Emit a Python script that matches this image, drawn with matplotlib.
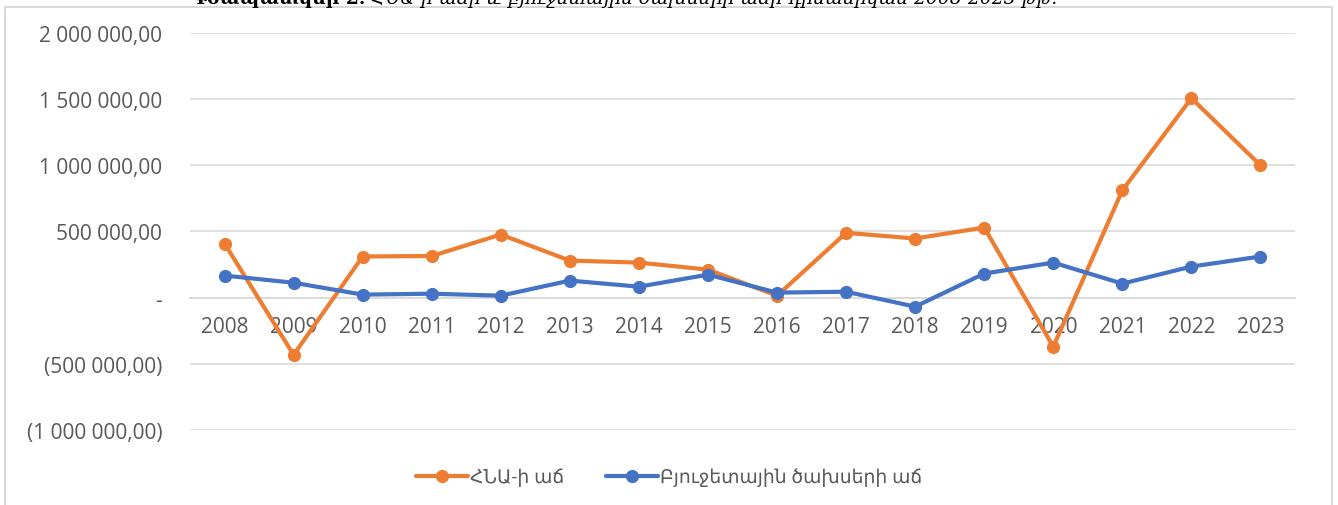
import matplotlib
matplotlib.use("Agg")
import matplotlib.pyplot as plt
from matplotlib.patches import Rectangle

years = ["2008", "2009", "2010", "2011", "2012", "2013", "2014", "2015",
         "2016", "2017", "2018", "2019", "2020", "2021", "2022", "2023"]
gdp_growth = [409000, -432000, 311000, 315000, 477000, 280000, 265000, 212000,
              15000, 490000, 447000, 530000, -371000, 811000, 1507000, 1000000]
budget_growth = [167000, 113000, 23000, 30000, 15000, 129000, 83000, 174000,
                 38000, 45000, -68000, 182000, 265000, 106000, 235000, 311000]
series_names = ["ՀՆԱ-ի աճ", "Բյուջետային ծախսերի աճ"]
y_ticks = [-1000000, -500000, 0, 500000, 1000000, 1500000, 2000000]
title_bold = "Գծապատկեր 2."
title_rest = " ՀՆԱ-ի աճի և բյուջետային ծախսերի աճի դինամիկան 2008-2023 թթ."

ORANGE = "#ED7D31"
BLUE = "#4472C4"
GRID = "#D9D9D9"
TEXT = "#595959"
FONT = ["Open Sans", "DejaVu Sans"]


def fmt_value(v):
    if v == 0:
        return "-"
    s = f"{abs(v):,.2f}".replace(",", " ").replace(".", ",")
    return f"({s})" if v < 0 else s


plt.rcParams["font.family"] = FONT

fig = plt.figure(figsize=(13.38, 5.06), dpi=100)
ax = fig.add_axes([190 / 1338, 1 - 431 / 506, 1105 / 1338, 397 / 506])

x = list(range(len(years)))
ax.plot(x, gdp_growth, color=ORANGE, lw=3, marker="o", ms=8.5,
        label=series_names[0], solid_capstyle="round", zorder=3)
ax.plot(x, budget_growth, color=BLUE, lw=3, marker="o", ms=8.5,
        label=series_names[1], solid_capstyle="round", zorder=4)

ax.set_xlim(-0.5, len(years) - 0.5)
ax.set_ylim(-1000000, 2000000)
ax.set_yticks(y_ticks)
ax.set_yticklabels([fmt_value(v) for v in y_ticks])
ax.set_xticks(x)
ax.set_xticklabels(years)

ax.grid(axis="y", color=GRID, lw=1.2)
ax.set_axisbelow(True)
for side in ["top", "right", "left"]:
    ax.spines[side].set_visible(False)
ax.spines["bottom"].set_position(("data", 0))
ax.spines["bottom"].set_color(GRID)
ax.spines["bottom"].set_linewidth(1.2)

ax.tick_params(axis="y", length=0, pad=20, labelsize=15, labelcolor=TEXT)
ax.tick_params(axis="x", length=0, pad=13, labelsize=15, labelcolor=TEXT)

fig.legend(loc="center", bbox_to_anchor=(0.5, 1 - 478 / 506), ncol=2,
           frameon=False, fontsize=13.5, labelcolor=TEXT, handlelength=2.8,
           handletextpad=0.1, columnspacing=2.2)

# outer chart border
fig.patches.append(Rectangle((5 / 1338, -0.05), 1327 / 1338, 1.05 - 8 / 506,
                             transform=fig.transFigure, fill=False,
                             edgecolor=GRID, lw=1.5))

# caption above the chart, cut off by the picture edge as in the source
t = fig.text(190 / 1338, 1 - 4 / 506, title_bold, fontsize=13.5,
             fontweight="bold", family=["DejaVu Serif"], va="baseline",
             ha="left")
fig.canvas.draw()
bb = t.get_window_extent()
fig.text(bb.x1 / fig.bbox.width, 1 - 4 / 506, title_rest, fontsize=13.5,
         style="italic", family=["DejaVu Serif"], va="baseline", ha="left")

fig.savefig("out.png", dpi=100)
